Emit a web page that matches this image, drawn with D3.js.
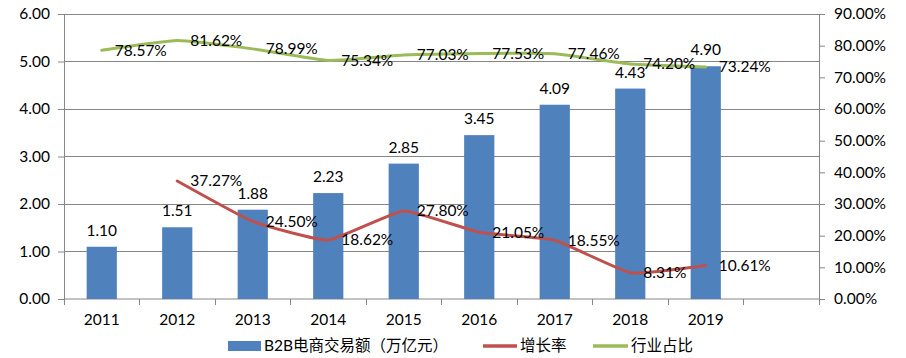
<!DOCTYPE html>
<html>
<head>
<meta charset="utf-8">
<script src="https://cdn.jsdelivr.net/npm/d3@7/dist/d3.min.js"></script>
<style>
  html, body { margin: 0; padding: 0; background: #fff; }
  text { font-family: "Lato", "Liberation Sans", "Noto Sans CJK SC", sans-serif; }
</style>
</head>
<body>
<svg id="chart" width="906" height="358"></svg>
<script>
// ---- data ----
const years = ["2011", "2012", "2013", "2014", "2015", "2016", "2017", "2018", "2019"];
const volume = [1.10, 1.51, 1.88, 2.23, 2.85, 3.45, 4.09, 4.43, 4.90];
const growthYears = ["2012", "2013", "2014", "2015", "2016", "2017", "2018", "2019"];
const growth = [37.27, 24.50, 18.62, 27.80, 21.05, 18.55, 8.31, 10.61];
const share = [78.57, 81.62, 78.99, 75.34, 77.03, 77.53, 77.46, 74.20, 73.24];
const leftTicks = [0, 1, 2, 3, 4, 5, 6];
const rightTicks = [0, 10, 20, 30, 40, 50, 60, 70, 80, 90];
const seriesNames = ["B2B电商交易额（万亿元）", "增长率", "行业占比"];

// ---- layout ----
const W = 906, H = 358;
const m = { left: 64, right: 87, top: 14, bottom: 59 };
const svg = d3.select("#chart");
const cats = years.concat(["__blank"]);
const x = d3.scaleBand().domain(cats).range([m.left, W - m.right]).padding(0);
const yL = d3.scaleLinear().domain([0, 6]).range([H - m.bottom, m.top]);
const yR = d3.scaleLinear().domain([0, 90]).range([H - m.bottom, m.top]);
const cx = d => x(d) + x.bandwidth() / 2;
const gray = "#868686";
const fs = 15.5;
const lblFont = "Lato, 'Liberation Sans', sans-serif";

// gridlines
svg.append("g").selectAll("line").data(leftTicks.filter(d => d > 0)).join("line")
  .attr("x1", m.left).attr("x2", W - m.right)
  .attr("y1", d => yL(d)).attr("y2", d => yL(d))
  .attr("stroke", gray).attr("stroke-width", 1).attr("shape-rendering", "crispEdges");

// left axis
const gL = svg.append("g").attr("transform", `translate(${m.left},0)`)
  .call(d3.axisLeft(yL).tickValues(leftTicks).tickFormat(d => d.toFixed(2)).tickSize(6).tickPadding(8));
// right axis
const gR = svg.append("g").attr("transform", `translate(${W - m.right},0)`)
  .call(d3.axisRight(yR).tickValues(rightTicks).tickFormat(d => d.toFixed(2) + "%").tickSize(6).tickPadding(9));
[gL, gR].forEach(g => {
  g.select(".domain").remove();
  g.selectAll(".tick line").attr("stroke", gray);
  g.selectAll(".tick text").attr("fill", "#000").attr("font-size", fs).attr("font-family", lblFont);
});
svg.append("line").attr("x1", m.left).attr("x2", m.left).attr("y1", yL(6)).attr("y2", yL(0))
  .attr("stroke", gray).attr("shape-rendering", "crispEdges");
svg.append("line").attr("x1", W - m.right).attr("x2", W - m.right).attr("y1", yR(90)).attr("y2", yR(0))
  .attr("stroke", gray).attr("shape-rendering", "crispEdges");

// bottom axis
const gB = svg.append("g").attr("transform", `translate(0,${H - m.bottom})`)
  .call(d3.axisBottom(x).tickFormat(d => years.includes(d) ? d : "").tickSize(0).tickPadding(15));
gB.select(".domain").attr("stroke", gray).attr("d", `M${m.left},0H${W - m.right}`);
gB.selectAll(".tick text").attr("fill", "#000").attr("font-size", fs).attr("font-family", lblFont);
const bounds = cats.map(d => x(d)).concat([x(cats[cats.length - 1]) + x.bandwidth()]);
gB.append("g").selectAll("line").data(bounds).join("line")
  .attr("x1", d => d).attr("x2", d => d).attr("y1", 0).attr("y2", 6)
  .attr("stroke", gray).attr("shape-rendering", "crispEdges");

// bars
const bw = x.bandwidth() * 0.4;
svg.append("g").selectAll("rect").data(years).join("rect")
  .attr("x", d => cx(d) - bw / 2).attr("width", bw)
  .attr("y", (d, i) => yL(volume[i])).attr("height", (d, i) => yL(0) - yL(volume[i]))
  .attr("fill", "#4F81BD");

// lines
const line = d3.line().curve(d3.curveCardinal.tension(0.6));
svg.append("path")
  .attr("d", line(growthYears.map((d, i) => [cx(d), yR(growth[i])])))
  .attr("fill", "none").attr("stroke", "#C0504D").attr("stroke-width", 3).attr("stroke-linecap", "round");
svg.append("path")
  .attr("d", line(years.map((d, i) => [cx(d), yR(share[i])])))
  .attr("fill", "none").attr("stroke", "#9BBB59").attr("stroke-width", 3).attr("stroke-linecap", "round");

// labels
svg.append("g").selectAll("text").data(years).join("text")
  .attr("x", d => cx(d)).attr("y", (d, i) => yL(volume[i]) - 11)
  .attr("text-anchor", "middle").attr("font-size", fs).attr("font-family", lblFont)
  .text((d, i) => volume[i].toFixed(2));
svg.append("g").selectAll("text").data(growthYears).join("text")
  .attr("x", d => cx(d) + 13).attr("y", (d, i) => yR(growth[i]))
  .attr("dy", "0.35em").attr("font-size", fs).attr("font-family", lblFont)
  .text((d, i) => growth[i].toFixed(2) + "%");
svg.append("g").selectAll("text").data(years).join("text")
  .attr("x", d => cx(d) + 13).attr("y", (d, i) => yR(share[i]))
  .attr("dy", "0.35em").attr("font-size", fs).attr("font-family", lblFont)
  .text((d, i) => share[i].toFixed(2) + "%");

// legend
const lg = svg.append("g");
const ly = 346;
const cjk = "'Noto Sans CJK SC', sans-serif";
lg.append("rect").attr("x", 228).attr("y", ly - 5).attr("width", 33).attr("height", 10).attr("fill", "#4F81BD");
lg.append("text").attr("x", 264).attr("y", ly).attr("dy", "0.35em").attr("font-size", 15.5)
  .attr("font-family", cjk).text(seriesNames[0]);
lg.append("line").attr("x1", 483).attr("x2", 517).attr("y1", ly).attr("y2", ly)
  .attr("stroke", "#C0504D").attr("stroke-width", 3.5);
lg.append("text").attr("x", 520).attr("y", ly).attr("dy", "0.35em").attr("font-size", 15.5)
  .attr("font-family", cjk).text(seriesNames[1]);
lg.append("line").attr("x1", 593).attr("x2", 628).attr("y1", ly).attr("y2", ly)
  .attr("stroke", "#9BBB59").attr("stroke-width", 3.5);
lg.append("text").attr("x", 631).attr("y", ly).attr("dy", "0.35em").attr("font-size", 15.5)
  .attr("font-family", cjk).text(seriesNames[2]);
</script>
</body>
</html>
